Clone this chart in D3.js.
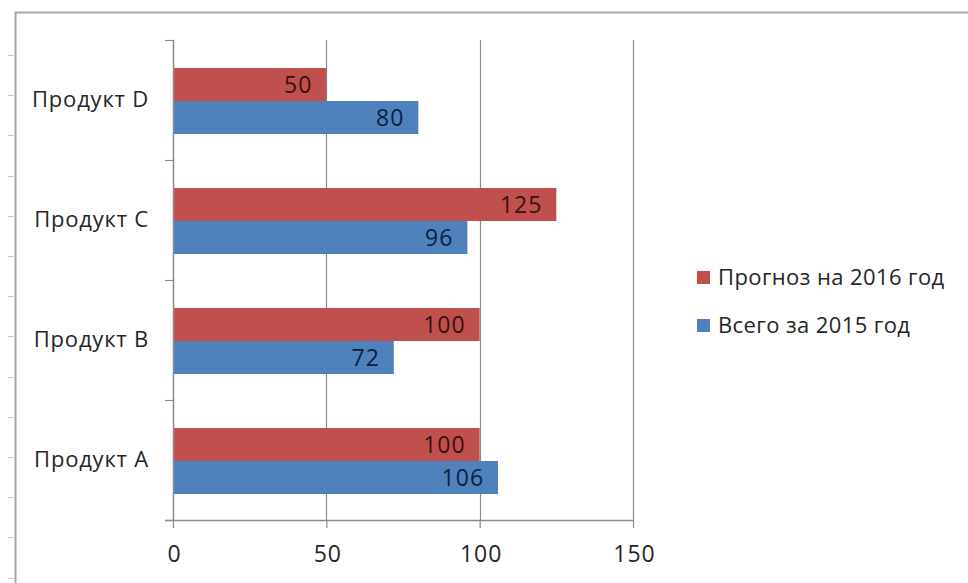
<!DOCTYPE html>
<html>
<head>
<meta charset="utf-8">
<script src="https://cdn.jsdelivr.net/npm/d3@7"></script>
<style>
  body { margin: 0; background: #fff; }
  svg { display: block; }
</style>
</head>
<body>
<svg id="chart" width="968" height="583"></svg>
<script>
// data
var categories = ["Продукт D", "Продукт C", "Продукт B", "Продукт A"];
var forecast2016 = [50, 125, 100, 100];
var total2015 = [80, 96, 72, 106];
var seriesNames = ["Прогноз на 2016 год", "Всего за 2015 год"];
var xTicks = [0, 50, 100, 150];

var colors = ["#C0504D", "#4F81BD"];
var labelColors = ["#3a1010", "#0e1f3b"];
var font = "'Open Sans', sans-serif";

var svg = d3.select("#chart"),
    margin = {top: 40, left: 173},
    width = 633 - 173,
    height = 520 - 40;

// outer frame of the chart object
svg.append("path")
    .attr("d", "M15.5,583V12.5H968")
    .attr("fill", "none")
    .attr("stroke", "#a6a6a6")
    .attr("stroke-width", 2);

// little ruler marks on the left edge
var ruler = d3.range(55, 583, 40.2);
svg.selectAll(".ruler")
    .data(ruler)
  .enter().append("line")
    .attr("class", "ruler")
    .attr("x1", 8).attr("x2", 14)
    .attr("y1", function(d) { return Math.round(d) + 0.5; })
    .attr("y2", function(d) { return Math.round(d) + 0.5; })
    .attr("stroke", "#c8c8c8");

var g = svg.append("g").attr("transform", "translate(" + margin.left + "," + margin.top + ")");

var x = d3.scaleLinear().domain([0, 150]).range([0, width]);
var y = d3.scaleBand().domain(categories).range([0, height]);
var ySub = d3.scaleBand().domain([0, 1]).range([28, 94]);

// gridlines
g.selectAll(".grid")
    .data(xTicks.slice(1))
  .enter().append("line")
    .attr("class", "grid")
    .attr("x1", function(d) { return Math.round(x(d)) + 0.5; })
    .attr("x2", function(d) { return Math.round(x(d)) + 0.5; })
    .attr("y1", 0).attr("y2", height)
    .attr("stroke", "#8c8c8c")
    .attr("stroke-width", 1.2);

var series = [forecast2016, total2015];
series.forEach(function(vals, si) {
  var rows = categories.map(function(c, i) { return {cat: c, v: vals[i]}; });
  g.selectAll(".bar" + si)
      .data(rows)
    .enter().append("rect")
      .attr("class", "bar" + si)
      .attr("x", x(0))
      .attr("y", function(d) { return y(d.cat) + ySub(si); })
      .attr("width", function(d) { return x(d.v) - x(0); })
      .attr("height", ySub.bandwidth())
      .attr("fill", colors[si]);

  g.selectAll(".lbl" + si)
      .data(rows)
    .enter().append("text")
      .attr("class", "lbl" + si)
      .attr("x", function(d) { return x(d.v) - 14; })
      .attr("y", function(d) { return y(d.cat) + ySub(si) + ySub.bandwidth() / 2; })
      .attr("dy", "0.35em")
      .attr("text-anchor", "end")
      .attr("font-family", font)
      .attr("font-size", 23)
      .attr("letter-spacing", 1)
      .attr("fill", labelColors[si])
      .text(function(d) { return d.v; });
});

// x axis
var xAxis = d3.axisBottom(x).tickValues(xTicks).tickSize(8).tickSizeOuter(0).tickPadding(18);
g.append("g")
    .attr("transform", "translate(0," + height + ")")
    .call(customXAxis);

// y axis
var yAxis = d3.axisLeft(y).tickSize(0).tickPadding(24);
g.append("g").call(customYAxis);

function customXAxis(gg) {
  gg.call(xAxis);
  gg.select(".domain").attr("stroke", "#8c8c8c").attr("stroke-width", 1.5)
    .attr("d", "M-8,0.5H" + width);
  gg.selectAll(".tick line").attr("stroke", "#8c8c8c").attr("stroke-width", 1.2);
  gg.selectAll(".tick text").attr("fill", "#262626").attr("font-family", font)
    .attr("font-size", 23).attr("letter-spacing", 1).attr("dx", 1);
}

function customYAxis(gg) {
  gg.call(yAxis);
  gg.select(".domain").attr("stroke", "#8c8c8c").attr("stroke-width", 1.5).attr("d", "M0.5,0V" + height);
  gg.selectAll(".tick text").attr("fill", "#262626").attr("font-family", font)
    .attr("font-size", 22).attr("letter-spacing", 0.8);
  // category boundary marks
  gg.selectAll(".bound")
      .data(d3.range(categories.length + 1))
    .enter().append("line")
      .attr("class", "bound")
      .attr("x1", -8).attr("x2", 0)
      .attr("y1", function(i) { return i * y.step() + 0.5; })
      .attr("y2", function(i) { return i * y.step() + 0.5; })
      .attr("stroke", "#8c8c8c").attr("stroke-width", 1.2);
}

// legend
var legend = svg.append("g").attr("transform", "translate(697,0)");
var legendY = [277, 325];
seriesNames.forEach(function(name, i) {
  legend.append("rect")
      .attr("x", 0).attr("y", legendY[i] - 6)
      .attr("width", 13).attr("height", 13)
      .attr("fill", colors[i]);
  legend.append("text")
      .attr("x", 21).attr("y", legendY[i])
      .attr("dy", "0.35em")
      .attr("font-family", font)
      .attr("font-size", 22)
      .attr("letter-spacing", 0.4)
      .attr("fill", "#262626")
      .text(name);
});
</script>
</body>
</html>
